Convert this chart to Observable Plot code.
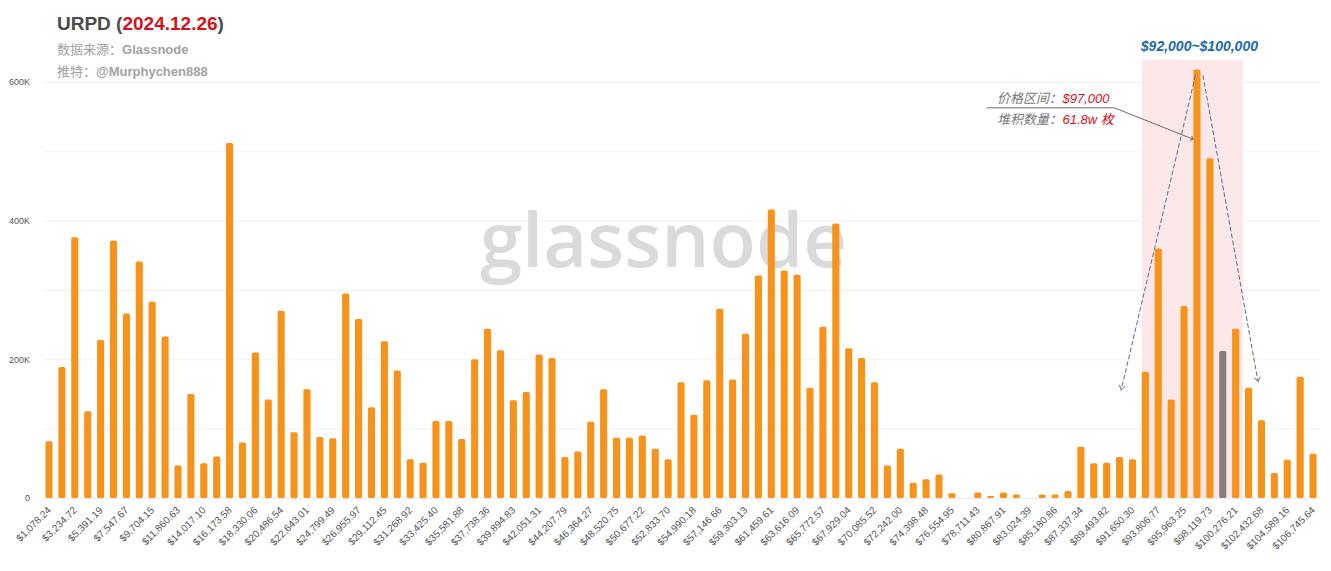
<!DOCTYPE html>
<html>
<head>
<meta charset="utf-8">
<script src="https://cdn.jsdelivr.net/npm/d3@7"></script>
<script src="https://cdn.jsdelivr.net/npm/@observablehq/plot@0.6"></script>
<style>
  body { margin: 0; background: #fff; }
  #wrap { position: relative; width: 1331px; height: 571px; overflow: hidden; }
  .t { position: absolute; white-space: nowrap; font-family: Arial, "Liberation Sans", "Noto Sans CJK SC", sans-serif; }
</style>
</head>
<body>
<div id="wrap">
  <div id="chart"></div>
  <div class="t" style="left:57px;top:14px;font-size:19px;line-height:20px;font-weight:bold;color:#4b4b4b">URPD (<span style="color:#d5121c">2024.12.26</span>)</div>
  <div class="t" style="left:57px;top:42px;font-size:13px;line-height:16px;color:#a2a2a2">数据来源：<b>Glassnode</b></div>
  <div class="t" style="left:57px;top:64px;font-size:13px;line-height:16px;color:#a2a2a2">推特：<b>@Murphychen888</b></div>
</div>
<script>
// URPD supply per price bucket (thousand BTC), one value per bucket, left to right
const supplyK = [
  82, 189, 376, 125, 228, 371, 266, 341, 283, 233,
  47, 150, 50, 60, 512, 80, 210, 142, 270, 95,
  157, 88, 86, 295, 258, 131, 226, 184, 56, 51,
  111, 111, 85, 200, 244, 213, 141, 153, 207, 202,
  59, 67, 110, 157, 87, 87, 90, 71, 56, 167,
  120, 170, 273, 171, 237, 321, 416, 328, 322, 159,
  247, 396, 216, 202, 167, 47, 71, 22, 27, 34,
  7, 0, 8, 3, 8, 5, 0, 5, 5, 10,
  74, 50, 51, 59, 56, 182, 360, 142, 277, 618,
  490, 212, 244, 159, 112, 36, 55, 175, 64
];
// x tick labels (every other bucket)
const tickLabels = [
  "$1,078.24","$3,234.72","$5,391.19","$7,547.67","$9,704.15","$11,860.63","$14,017.10","$16,173.58","$18,330.06","$20,486.54",
  "$22,643.01","$24,799.49","$26,955.97","$29,112.45","$31,268.92","$33,425.40","$35,581.88","$37,738.36","$39,894.83","$42,051.31",
  "$44,207.79","$46,364.27","$48,520.75","$50,677.22","$52,833.70","$54,990.18","$57,146.66","$59,303.13","$61,459.61","$63,616.09",
  "$65,772.57","$67,929.04","$70,085.52","$72,242.00","$74,398.48","$76,554.95","$78,711.43","$80,867.91","$83,024.39","$85,180.86",
  "$87,337.34","$89,493.82","$91,650.30","$93,806.77","$95,963.25","$98,119.73","$100,276.21","$102,432.68","$104,589.16","$106,745.64"
];
const yTicks = [0, 200, 400, 600];
const gridValues = [100, 200, 300, 400, 500, 600];
const currentBucket = 91;     // bucket holding the current price (gray)
const highlightRange = [84.73, 92.56]; // $92,000 ~ $100,000 zone (bucket units)
const highlightTop = 632;
const rangeLabel = "$92,000~$100,000";
const peakNote = [["价格区间：", "$97,000"], ["堆积数量：", "61.8w 枚"]];

const ORANGE = "#f7931a", GRAY = "#8a7b7c";
const data = supplyK.map((v, i) => ({i, v}));
const tickIdx = tickLabels.map((_, k) => k * 2);
const FONT = "Arial, 'Liberation Sans', 'Noto Sans CJK SC', sans-serif";

const chart = Plot.plot({
  width: 1331,
  height: 571,
  marginLeft: 42.55,
  marginRight: 11.5,
  marginTop: 82,
  marginBottom: 73,
  style: {fontFamily: FONT, fontSize: "10px", color: "#555", background: "transparent", overflow: "visible"},
  x: {type: "linear", domain: [-0.5, 98.5], ticks: tickIdx, tickFormat: i => tickLabels[i / 2],
      tickRotate: -45, tickSize: 0, tickPadding: 10, label: null},
  y: {domain: [0, 600], ticks: yTicks, tickFormat: d => d === 0 ? "0" : d + "K",
      tickSize: 0, tickPadding: 13, label: null},
  marks: [
    Plot.ruleY(gridValues, {stroke: "#f1f1f1", strokeWidth: 1}),
    Plot.rect([highlightRange], {x1: d => d[0], x2: d => d[1], y1: 0, y2: highlightTop, fill: "#fde8e9"}),
    Plot.text(["glassnode"], {x: 47.6, y: 369, text: d => d, fontSize: 76, fontWeight: 600,
      fontFamily: "'Open Sans', sans-serif", fill: "#dadada"}),
    Plot.rectY(data, {x1: d => d.i - 0.275, x2: d => d.i + 0.275, y: "v", rx: 1.5,
      fill: d => d.i === currentBucket ? GRAY : ORANGE}),
    Plot.ruleY([0], {stroke: "#ececec"}),
    // range label
    Plot.text([rangeLabel], {x: 89.15, y: 652, text: d => d, fontSize: 14, fontWeight: "bold", fontStyle: "italic",
      fill: "#1b69ad"}),
    // dashed arrows from the peak
    Plot.arrow([{x1: 88.84, y1: 610, x2: 83.08, y2: 156}, {x1: 89.43, y1: 610, x2: 93.7, y2: 168}],
      {x1: "x1", y1: "y1", x2: "x2", y2: "y2", stroke: "#5a6d90", strokeWidth: 1, strokeDasharray: "4,3", headLength: 8}),
    // note
    Plot.text(peakNote, {x: 78.49, y: (d, k) => k === 0 ? 577 : 546, text: d => d[0], textAnchor: "end",
      fontSize: 13, fontStyle: "italic", fill: "#777"}),
    Plot.text(peakNote, {x: 78.53, y: (d, k) => k === 0 ? 577 : 546, text: d => d[1], textAnchor: "start",
      fontSize: 13, fontStyle: "italic", fill: "#d5121c"}),
    Plot.line([[72.69, 563.5], [82.56, 563.5], [88.58, 518.8]], {x: d => d[0], y: d => d[1], stroke: "#6a6a6a",
      strokeWidth: 1, markerEnd: "arrow"})
  ]
});
document.getElementById("chart").appendChild(chart);
d3.select(chart).selectAll('[aria-label^="y-axis"] text').style("font-size", "9px");
</script>
</body>
</html>
